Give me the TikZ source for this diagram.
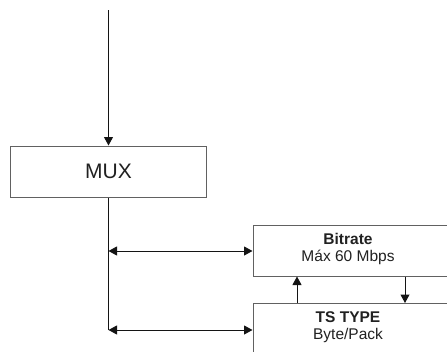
\documentclass[tikz,border=0pt]{standalone}
\usepackage{fontspec}
\setmainfont{Liberation Sans}
\usetikzlibrary{arrows.meta}
\definecolor{boxgray}{gray}{0.38}
\definecolor{txt}{gray}{0.13}
\begin{document}
\begin{tikzpicture}[x=1pt,y=-1pt,
  box/.style={draw=boxgray, line width=1pt, fill=white, rectangle, inner sep=0pt},
  conn/.style={line width=1pt, draw=black!92},
  tip/.style={-{Triangle[length=8.5pt,width=9pt]}},
  tips/.style={{Triangle[length=8.5pt,width=9pt]}-{Triangle[length=8.5pt,width=9pt]}},
  lbl/.style={font=\fontsize{15.5}{17}\selectfont, text=txt, anchor=base, inner sep=0pt}]
\useasboundingbox (0,0) rectangle (447,351);
\clip (0,0) rectangle (447,351);
% boxes
\node[box, minimum width=196pt, minimum height=51pt, text=txt,
      font=\fontsize{21}{24}\selectfont] (mux) at (108.5,171.5) {MUX};
\node[box, minimum width=240pt, minimum height=50.5pt, anchor=north west] (bit) at (252.5,225) {};
\node[box, minimum width=240pt, minimum height=80pt, anchor=north west] (ts) at (252.5,303) {};
% texts
\node[lbl] (bittitle) at (348,244) {\textbf{Bitrate}};
\node[lbl] (bitval) at (348,261) {Máx 60 Mbps};
\node[lbl] (tstitle) at (348,322) {\textbf{TS TYPE}};
\node[lbl] (tsval) at (348,339) {Byte/Pack};
% connectors
\coordinate (top) at (108.5,10);
\coordinate (j1) at (108.5,251);
\coordinate (j2) at (108.5,330);
\coordinate (ux) at (297,0);
\coordinate (dx) at (405,0);
\draw[conn,tip] (top) -- (mux.north);
\draw[conn] (mux.south) -- (j2);
\draw[conn,tips] (j1) -- (j1 -| bit.west);
\draw[conn,tips] (j2) -- (j2 -| ts.west);
\draw[conn,tip] (ux |- ts.north) -- (ux |- bit.south);
\draw[conn,tip] (dx |- bit.south) -- (dx |- ts.north);
\end{tikzpicture}
\end{document}
